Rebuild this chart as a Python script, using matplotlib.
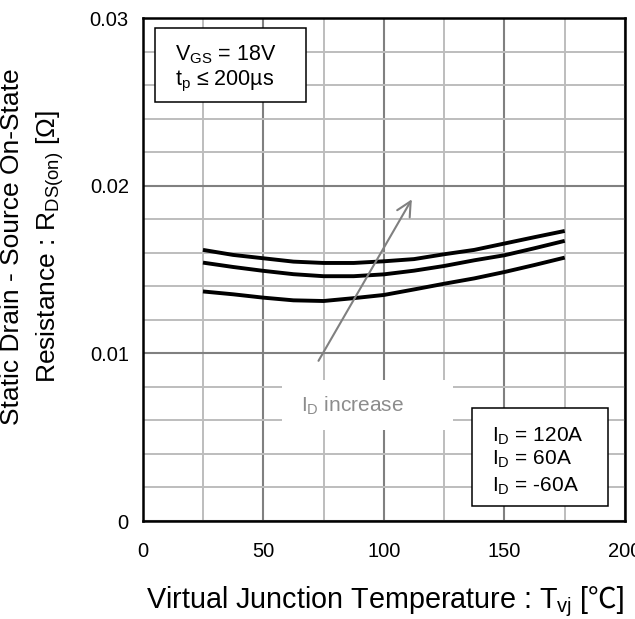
import matplotlib
matplotlib.use("Agg")
import matplotlib.pyplot as plt
from matplotlib.patches import Rectangle
from matplotlib.ticker import MultipleLocator

plt.rcParams['font.family'] = ['Liberation Sans', 'DejaVu Sans']
plt.rcParams['mathtext.fontset'] = 'custom'
plt.rcParams['mathtext.rm'] = 'Liberation Sans'
plt.rcParams['mathtext.it'] = 'Liberation Sans:italic'

## datos ##
temp = [25, 37.5, 50, 62.5, 75, 87.5, 100, 112.5, 125, 137.5, 150, 162.5, 175]
r_120a = [0.01618, 0.01588, 0.01568, 0.01548, 0.0154, 0.0154, 0.0155,
          0.01563, 0.01592, 0.01618, 0.01656, 0.01694, 0.01731]
r_60a = [0.01542, 0.01516, 0.01493, 0.01473, 0.01461, 0.01461, 0.01472,
         0.01494, 0.01522, 0.01556, 0.01586, 0.01628, 0.01672]
r_m60a = [0.0137, 0.01353, 0.01333, 0.01317, 0.01313, 0.0133, 0.01349,
          0.01382, 0.01416, 0.01448, 0.01486, 0.01528, 0.01572]
x_ticks = [0, 50, 100, 150, 200]
y_ticks = [0, 0.01, 0.02, 0.03]
y_tick_labels = ['0', '0.01', '0.02', '0.03']
legend_lines = [r'I$_{\mathrm{D}}$ = 120A', r'I$_{\mathrm{D}}$ = 60A', r'I$_{\mathrm{D}}$ = -60A']

W, H = 635, 619
fig = plt.figure(figsize=(W / 100, H / 100), dpi=100)
ax = fig.add_axes([0.2247, 0.1583, 0.7596, 0.8121])

ax.set_xlim(0, 200)
ax.set_ylim(0, 0.03)
ax.set_xticks(x_ticks)
ax.set_yticks(y_ticks)
ax.set_yticklabels(y_tick_labels)
ax.xaxis.set_minor_locator(MultipleLocator(25))
ax.yaxis.set_minor_locator(MultipleLocator(0.002))
ax.tick_params(which='both', length=0, labelsize=14.5)
ax.tick_params(axis='x', pad=15)
ax.tick_params(axis='y', pad=10)
ax.set_axisbelow(True)
ax.grid(which='minor', color='#bdbdbd', lw=1.4)
ax.grid(which='major', color='#808080', lw=1.5)
for s in ax.spines.values():
    s.set_linewidth(1.8)
    s.set_color('black')

ax.plot(temp, r_120a, color='black', lw=2.8, solid_capstyle='butt')
ax.plot(temp, r_60a, color='black', lw=2.8, solid_capstyle='butt')
ax.plot(temp, r_m60a, color='black', lw=2.8, solid_capstyle='butt')

# caja blanca detras del texto
ax.add_patch(Rectangle((57.7, 0.00542), 70.8, 0.00298, facecolor='white',
                       edgecolor='none', zorder=1))
ax.annotate('', xy=(111.6, 0.0192), xytext=(72.9, 0.00956),
            arrowprops=dict(arrowstyle='->', color='#808080', lw=1.5,
                            mutation_scale=26, shrinkA=0, shrinkB=0), zorder=3)
ax.text(87.0, 0.00687, r'I$_{\mathrm{D}}$ increase', color='#8c8c8c', fontsize=15,
        ha='center', va='center', zorder=3)

# caja de condiciones
ax.add_patch(Rectangle((0.0255, 0.833), 0.3125, 0.147, transform=ax.transAxes,
                       facecolor='white', edgecolor='black', lw=1.1, zorder=4))
ax.text(0.067, 0.917, r'V$_{\mathrm{GS}}$ = 18V', transform=ax.transAxes,
        fontsize=15.5, va='baseline', zorder=5)
ax.text(0.067, 0.867, r't$_{\mathrm{p}}$ ≤ 200µs', transform=ax.transAxes,
        fontsize=15.5, va='baseline', zorder=5)

# caja de corrientes
ax.add_patch(Rectangle((0.682, 0.0304), 0.283, 0.195, transform=ax.transAxes,
                       facecolor='white', edgecolor='black', lw=1.1, zorder=4))
for txt, yb in zip(legend_lines, [0.157, 0.1114, 0.0583]):
    ax.text(0.7235, yb, txt, transform=ax.transAxes, fontsize=15,
            va='baseline', zorder=5)

# etiqueta x en dos partes (el simbolo de grados no esta en Liberation)
yb = 1 - 608 / H
t1 = fig.text(146 / W, yb, r'Virtual Junction Temperature : T$_{\mathrm{vj}}$',
              fontsize=20.7, ha='left', va='baseline')
t2 = fig.text(0, yb, ' [℃]', fontsize=20.7, ha='left', va='baseline',
              family=['Liberation Sans', 'Noto Sans CJK JP'])
renderer = fig.canvas.get_renderer()
w1 = t1.get_window_extent(renderer).width
t2.set_x((146 + w1) / W)

fig.text(33 / W, 1 - 247 / H,
         'Static Drain - Source On-State\n' + r'Resistance : R$_{\mathrm{DS(on)}}$ [Ω]',
         fontsize=19, ha='center', va='center', rotation=90, linespacing=1.5)

fig.savefig('out.png', dpi=100)
